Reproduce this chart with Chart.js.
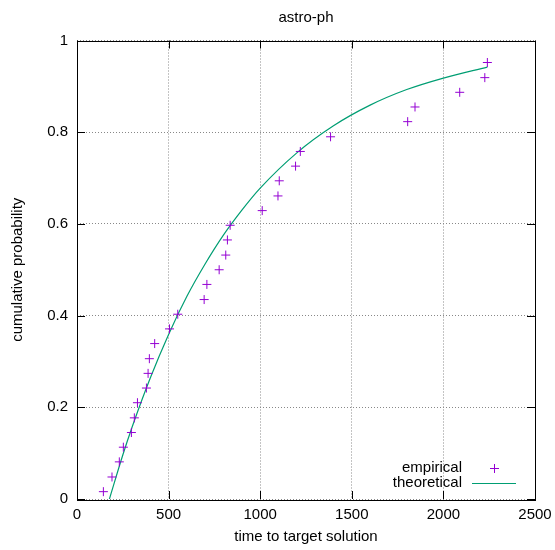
<!DOCTYPE html>
<html>
<head>
<meta charset="utf-8">
<script src="https://cdn.jsdelivr.net/npm/chart.js@4/dist/chart.umd.min.js"></script>
<style>
  html, body { margin: 0; padding: 0; background: #fff; }
  #wrap { width: 555px; height: 550px; }
</style>
</head>
<body>
<div id="wrap"><canvas id="c" width="555" height="550"></canvas></div>
<script>
// empirical run times (time to target solution) and cumulative probability
const empTime = [144, 191, 231, 253, 297, 313, 330, 379, 388, 395, 424, 505, 550,
  694, 709, 776, 812, 821, 836, 1011, 1097, 1104, 1193, 1219, 1384,
  1805, 1845, 2089, 2226, 2240];
const empProb = [0.016, 0.048, 0.081, 0.113, 0.145, 0.177, 0.210, 0.242, 0.274, 0.306,
  0.339, 0.371, 0.403, 0.435, 0.468, 0.500, 0.532, 0.565, 0.597, 0.629,
  0.661, 0.694, 0.726, 0.758, 0.790, 0.823, 0.855, 0.887, 0.919, 0.952];

// theoretical curve
const theoTime = [177, 250, 300, 400, 500, 600, 700, 800, 900, 1000, 1200, 1400, 1600, 1800, 2000, 2240];
const theoProb = [0, 0.096, 0.156, 0.264, 0.359, 0.442, 0.513, 0.576, 0.630, 0.678, 0.755, 0.814, 0.859, 0.893, 0.918, 0.942];

const xTicks = [0, 500, 1000, 1500, 2000, 2500];
const yTicks = [0, 0.2, 0.4, 0.6, 0.8, 1];

const FONT = 'Liberation Sans, Arial, sans-serif';
const purple = '#9400d3';
const green = '#009e73';

// border, inner tick marks and key, gnuplot style
const frame = {
  id: 'frame',
  afterDatasetsDraw(chart) {
    const { ctx, chartArea: a, scales } = chart;
    ctx.save();
    ctx.strokeStyle = '#000';
    ctx.lineWidth = 1;
    ctx.beginPath();
    xTicks.forEach(v => {
      const x = Math.round(scales.x.getPixelForValue(v)) + 0.5;
      ctx.moveTo(x, a.bottom); ctx.lineTo(x, a.bottom - 8);
      ctx.moveTo(x, a.top); ctx.lineTo(x, a.top + 8);
    });
    yTicks.forEach(v => {
      const y = Math.round(scales.y.getPixelForValue(v)) + 0.5;
      ctx.moveTo(a.left, y); ctx.lineTo(a.left + 8, y);
      ctx.moveTo(a.right, y); ctx.lineTo(a.right - 8, y);
    });
    ctx.stroke();
    ctx.strokeRect(Math.round(a.left) + 0.5, Math.round(a.top) + 0.5,
      Math.round(a.right - a.left), Math.round(a.bottom - a.top));

    // key
    ctx.font = '15px ' + FONT;
    ctx.fillStyle = '#000';
    ctx.textAlign = 'right';
    ctx.textBaseline = 'middle';
    ctx.fillText('empirical', 462, 468);
    ctx.fillText('theoretical', 462, 483);
    ctx.strokeStyle = purple;
    ctx.beginPath();
    ctx.moveTo(490, 468.5); ctx.lineTo(499, 468.5);
    ctx.moveTo(494.5, 464); ctx.lineTo(494.5, 473);
    ctx.stroke();
    ctx.strokeStyle = green;
    ctx.lineWidth = 1.2;
    ctx.beginPath();
    ctx.moveTo(472, 483.5); ctx.lineTo(516, 483.5);
    ctx.stroke();
    ctx.restore();
  }
};

new Chart(document.getElementById('c'), {
  type: 'scatter',
  data: {
    datasets: [
      {
        label: 'empirical',
        data: empTime.map((t, i) => ({ x: t, y: empProb[i] })),
        pointStyle: 'cross',
        pointRadius: 4.5,
        pointBorderWidth: 1,
        borderColor: purple,
        backgroundColor: purple,
        showLine: false
      },
      {
        label: 'theoretical',
        data: theoTime.map((t, i) => ({ x: t, y: theoProb[i] })),
        showLine: true,
        borderColor: green,
        borderWidth: 1.2,
        pointRadius: 0,
        cubicInterpolationMode: 'monotone',
        fill: false
      }
    ]
  },
  options: {
    responsive: false,
    animation: false,
    layout: { padding: { top: 0, right: 20, bottom: 0, left: 0 } },
    plugins: {
      legend: { display: false },
      tooltip: { enabled: false },
      title: {
        display: true,
        text: 'astro-ph',
        fullSize: false,
        color: '#000',
        font: { family: FONT, size: 15, weight: 'normal', lineHeight: 1.2 },
        padding: { top: 9, bottom: 13.5 }
      }
    },
    scales: {
      x: {
        type: 'linear',
        min: 0, max: 2500,
        afterBuildTicks: s => { s.ticks = xTicks.map(v => ({ value: v })); },
        afterFit: s => { s.height = 51; s.paddingRight = 0; s.paddingLeft = 0; },
        grid: { color: '#888', drawTicks: false },
        border: { display: false, dash: [1, 2] },
        ticks: {
          color: '#000', padding: 7,
          font: { family: FONT, size: 15 },
          callback: v => String(v)
        },
        title: {
          display: true,
          text: 'time to target solution',
          color: '#000',
          font: { family: FONT, size: 15, lineHeight: 1.2 },
          padding: { top: 0, bottom: 4 }
        }
      },
      y: {
        type: 'linear',
        min: 0, max: 1,
        afterBuildTicks: s => { s.ticks = yTicks.map(v => ({ value: v })); },
        afterFit: s => { s.width = 77; s.paddingTop = 0; s.paddingBottom = 0; },
        grid: { color: '#888', drawTicks: false },
        border: { display: false, dash: [1, 2] },
        ticks: {
          color: '#000', padding: 9,
          font: { family: FONT, size: 15 },
          callback: v => String(v)
        },
        title: {
          display: true,
          text: 'cumulative probability',
          color: '#000',
          font: { family: FONT, size: 15, lineHeight: 1.2 },
          padding: { top: 9, bottom: 0 }
        }
      }
    }
  },
  plugins: [frame]
});
</script>
</body>
</html>
